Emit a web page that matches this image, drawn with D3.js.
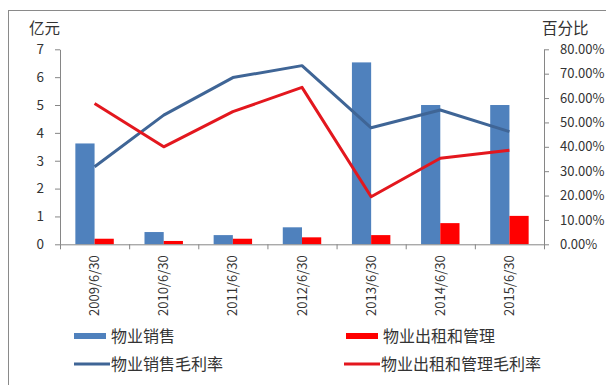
<!DOCTYPE html>
<html><head><meta charset="utf-8">
<script src="https://cdn.jsdelivr.net/npm/d3@7"></script>
<style>
html,body{margin:0;padding:0;background:#fff;}
text{font-family:"Noto Sans CJK SC","Noto Sans",sans-serif;}
</style></head>
<body><svg id="c" width="606" height="385"></svg>
<script>
const categories = ["2009/6/30","2010/6/30","2011/6/30","2012/6/30","2013/6/30","2014/6/30","2015/6/30"];
const salesRevenue = [3.62, 0.44, 0.33, 0.61, 6.53, 5.0, 5.0];
const rentalRevenue = [0.20, 0.12, 0.20, 0.25, 0.33, 0.76, 1.02];
const salesMargin = [0.318, 0.530, 0.684, 0.733, 0.478, 0.551, 0.462];
const rentalMargin = [0.578, 0.400, 0.544, 0.644, 0.195, 0.353, 0.386];
const leftTicks = [0,1,2,3,4,5,6,7];
const rightTicks = [0,0.1,0.2,0.3,0.4,0.5,0.6,0.7,0.8];
const seriesNames = ["物业销售","物业出租和管理","物业销售毛利率","物业出租和管理毛利率"];

const svg = d3.select("#c");
const L = 60, R = 544, T = 49.3, B = 244.3;
const axisColor = "#868686", textColor = "#333";
const blueBar = "#4F81BD", redBar = "#FF0000", blueLine = "#3F6596", redLine = "#E3171E";

// frame
svg.append("rect").attr("x",8.5).attr("y",10.5).attr("width",700).attr("height",500)
  .attr("fill","none").attr("stroke","#8a8a8a").attr("stroke-width",1);

const x = d3.scaleBand().domain(categories).range([L,R]).paddingInner(0.444).paddingOuter(0.222);
const xs = d3.scaleBand().domain(["s","r"]).range([0,x.bandwidth()]);
const step = x.step();
const yL = d3.scaleLinear().domain([0,7]).range([B,T]);
const yR = d3.scaleLinear().domain([0,0.8]).range([B,T]);

// bars
const g = svg.append("g");
g.selectAll(".bs").data(categories).join("rect")
  .attr("x",d=>x(d)+xs("s")).attr("width",xs.bandwidth())
  .attr("y",(d,i)=>yL(salesRevenue[i])).attr("height",(d,i)=>yL(0)-yL(salesRevenue[i]))
  .attr("fill",blueBar);
g.selectAll(".br").data(categories).join("rect")
  .attr("x",d=>x(d)+xs("r")).attr("width",xs.bandwidth())
  .attr("y",(d,i)=>yL(rentalRevenue[i])).attr("height",(d,i)=>yL(0)-yL(rentalRevenue[i]))
  .attr("fill",redBar);

// lines
const cx = d => x(d)+x.bandwidth()/2;
const line = arr => d3.line().x((d,i)=>cx(categories[i])).y(d=>yR(d))(arr);
svg.append("path").attr("d",line(salesMargin)).attr("fill","none").attr("stroke",blueLine).attr("stroke-width",3).attr("stroke-linejoin","round");
svg.append("path").attr("d",line(rentalMargin)).attr("fill","none").attr("stroke",redLine).attr("stroke-width",3).attr("stroke-linejoin","round");

// axes
function styleAxis(sel){
  sel.selectAll("path,line").attr("stroke",axisColor);
  sel.selectAll("text").attr("fill",textColor).style("font-family","'Noto Sans CJK SC','Noto Sans',sans-serif");
}
const ax = svg.append("g").attr("transform",`translate(${L},0)`)
  .call(d3.axisLeft(yL).tickValues(leftTicks).tickSize(5).tickSizeOuter(0).tickPadding(11).tickFormat(d3.format("d")));
styleAxis(ax); ax.selectAll("text").style("font-size","13.5px");
const axr = svg.append("g").attr("transform",`translate(${R},0)`)
  .call(d3.axisRight(yR).tickValues(rightTicks).tickSize(5).tickSizeOuter(0).tickPadding(11).tickFormat(d3.format(".2%")));
styleAxis(axr); axr.selectAll("text").style("font-size","13px");

// bottom axis line + boundary ticks
const xb = d3.scaleLinear().domain([0,categories.length]).range([L,R]);
const axb = svg.append("g").attr("transform",`translate(0,${B})`)
  .call(d3.axisBottom(xb).tickValues(d3.range(0,categories.length+1)).tickSize(5).tickSizeOuter(0).tickFormat(""));
styleAxis(axb);
// category labels
const axl = svg.append("g").attr("transform",`translate(0,${B})`)
  .call(d3.axisBottom(x).tickSize(0).tickPadding(0));
axl.select(".domain").remove();
axl.selectAll("text").attr("fill",textColor).style("font-size","13px")
  .style("font-family","'Noto Sans CJK SC','Noto Sans',sans-serif")
  .attr("transform","rotate(-90)").attr("text-anchor","end")
  .attr("x",-11).attr("y",0).attr("dy","0.35em");

// axis titles
svg.append("text").attr("x",29).attr("y",34).attr("fill",textColor).style("font-size","15.5px").text("亿元");
svg.append("text").attr("x",542).attr("y",34).attr("fill",textColor).style("font-size","15.5px").text("百分比");

// legend
const leg = [
  {name:seriesNames[0], x:74, y:336, type:"rect", color:blueBar},
  {name:seriesNames[1], x:346, y:336, type:"rect", color:redBar},
  {name:seriesNames[2], x:74, y:364, type:"line", color:blueLine},
  {name:seriesNames[3], x:344, y:364, type:"line", color:redLine}
];
leg.forEach(d=>{
  if(d.type==="rect"){
    svg.append("rect").attr("x",d.x).attr("y",d.y-3).attr("width",32).attr("height",6).attr("fill",d.color);
  } else {
    svg.append("line").attr("x1",d.x).attr("x2",d.x+36).attr("y1",d.y).attr("y2",d.y).attr("stroke",d.color).attr("stroke-width",3);
  }
  svg.append("text").attr("x",d.x+37).attr("y",d.y).attr("dy","0.36em").attr("fill",textColor).style("font-size","16px").text(d.name);
});
</script></body></html>
